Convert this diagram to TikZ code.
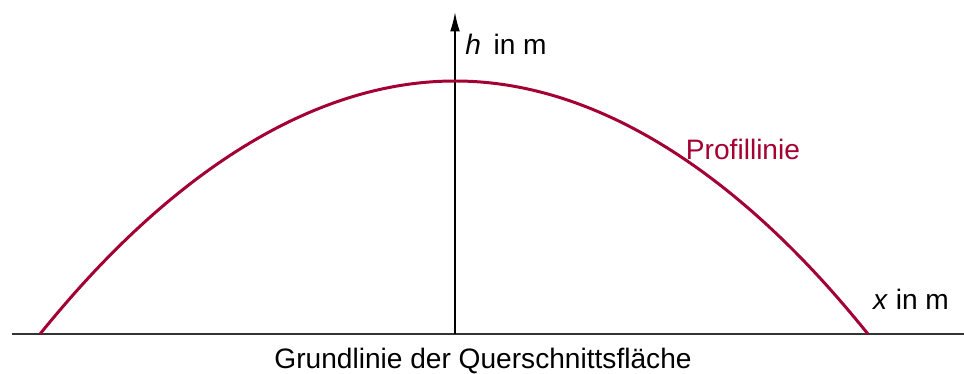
\documentclass[tikz,border=0pt]{standalone}
\usepackage{fontspec}
\setmainfont{Liberation Sans}
\usetikzlibrary{arrows.meta}
\definecolor{profil}{RGB}{163,0,52}

\begin{document}
\begin{tikzpicture}[x=0.02cm,y=-0.02cm,>={Latex[length=11pt,width=5.5pt]},
    font=\fontsize{16}{19}\selectfont]
  \useasboundingbox (0,0) rectangle (964,374);
  \coordinate (xl) at (12,334);
  \coordinate (xr) at (964,334);
  \coordinate (o) at (455,334);
  \coordinate (ytop) at (455,12);
  \coordinate (pl) at (40,334);
  \coordinate (pr) at (868,334);
  \coordinate (top) at (455,81);
  \draw[line width=.9pt,black!80] (xl)--(xr);
  \draw[line width=.9pt,->] (o)--(ytop);
  \draw[line width=1.7pt,profil] (pl) parabola bend (top) (pr);
  \node (hlab) at (506,44) {\textit{h}\, in m};
  \node (xlab) at (911,299) {\textit{x} in m};
  \node[text=profil] (prof) at (743,149) {Profillinie};
  \node (grund) at (483,361) {Grundlinie der Querschnittsfläche};
\end{tikzpicture}
\end{document}
